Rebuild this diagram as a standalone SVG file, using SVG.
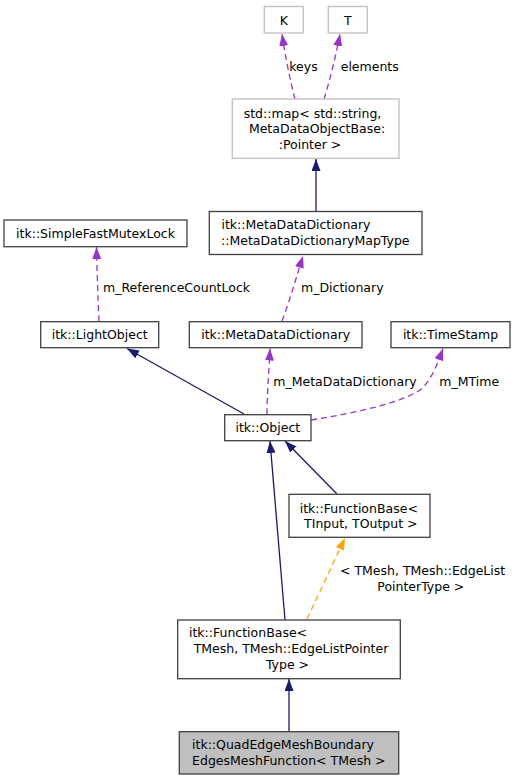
<svg xmlns="http://www.w3.org/2000/svg" width="515" height="781" viewBox="0 0 515 781">
<style>
text{font-family:"DejaVu Sans","Liberation Sans",sans-serif;font-size:12.5px;fill:#000}
.m{text-anchor:middle}
.n{fill:#fff;stroke:#404040;stroke-width:1.3}
.g{fill:#fff;stroke:#bfbfbf;stroke-width:1.3}
.cur{fill:#bfbfbf;stroke:#404040;stroke-width:1.3}
.e{fill:none;stroke-width:1.3}
.nv{stroke:#191970;marker-end:url(#an)}
.pu{stroke:#9a32cd;stroke-dasharray:6,4;marker-end:url(#ap)}
.or{stroke:#ffa500;stroke-dasharray:6,4;marker-end:url(#ao)}
</style>
<defs>
<marker id="an" markerUnits="userSpaceOnUse" markerWidth="13" markerHeight="10" refX="12" refY="4.5" orient="auto"><path d="M0,0 L12,4.5 L0,9 z" fill="#191970"/></marker>
<marker id="ap" markerUnits="userSpaceOnUse" markerWidth="13" markerHeight="10" refX="12" refY="4.5" orient="auto"><path d="M0,0 L12,4.5 L0,9 z" fill="#9a32cd"/></marker>
<marker id="ao" markerUnits="userSpaceOnUse" markerWidth="13" markerHeight="10" refX="12" refY="4.5" orient="auto"><path d="M0,0 L12,4.5 L0,9 z" fill="#ffa500"/></marker>
</defs>
<rect width="515" height="781" fill="#fff"/>
<g id="connectors">
<path class="e pu" d="M295,99 C290,80 285,55 282,34"/>
<path class="e pu" d="M324,99 C330,80 336,55 340,34"/>
<path class="e nv" d="M316,211 L316,159"/>
<path class="e pu" d="M99,321 C98,300 97,270 96.5,247"/>
<path class="e pu" d="M282,321 C290,300 297,275 303,256"/>
<path class="e pu" d="M267,414 C267,395 269,370 270,348.5"/>
<path class="e pu" d="M311,420 C360,412 400,403 420,390 C432,380 438,362 443,348.5"/>
<path class="e nv" d="M244,414 L127,348.5"/>
<path class="e nv" d="M337,494 L285,441"/>
<path class="e nv" d="M285,620 L270,441"/>
<path class="e or" d="M307,619 L345,538"/>
<path class="e nv" d="M289,731 L289,679"/>
<text x="289.3" y="71">keys</text>
<text x="340.7" y="71">elements</text>
<text x="103" y="292">m_ReferenceCountLock</text>
<text x="301" y="292">m_Dictionary</text>
<text x="273.3" y="385.5">m_MetaDataDictionary</text>
<text x="439.3" y="385.5">m_MTime</text>
<text x="340" y="575">&lt; TMesh, TMesh::EdgeList</text>
<text x="377.3" y="591">PointerType &gt;</text>
</g>
<g id="K"><rect class="g" x="264.3" y="6.5" width="39" height="26.5"/><text class="m" x="283.8" y="24.5">K</text></g>
<g id="T"><rect class="g" x="328.3" y="6.5" width="39" height="26.5"/><text class="m" x="347.8" y="24.5">T</text></g>
<g id="stdmap"><rect class="g" x="232.3" y="99" width="166.7" height="59.3"/>
<text class="m" x="312.5" y="118">std::map&lt; std::string,</text>
<text class="m" x="317" y="133">MetaDataObjectBase:</text>
<text class="m" x="310" y="148.5">:Pointer &gt;</text></g>
<g id="MapType"><rect class="n" x="209.3" y="211.5" width="212.7" height="43"/>
<text class="m" x="296" y="229">itk::MetaDataDictionary</text>
<text class="m" x="315.3" y="245">::MetaDataDictionaryMapType</text></g>
<g id="Mutex"><rect class="n" x="4" y="220" width="183" height="26.7"/><text class="m" x="95.5" y="237.5">itk::SimpleFastMutexLock</text></g>
<g id="LightObject"><rect class="n" x="40.7" y="321.7" width="118" height="26"/><text class="m" x="99.7" y="339">itk::LightObject</text></g>
<g id="MetaDataDictionary"><rect class="n" x="189.3" y="321.7" width="172.7" height="26"/><text class="m" x="275.7" y="339">itk::MetaDataDictionary</text></g>
<g id="TimeStamp"><rect class="n" x="391" y="321.7" width="119" height="26"/><text class="m" x="450.5" y="339">itk::TimeStamp</text></g>
<g id="Object"><rect class="n" x="224.7" y="414.7" width="86.3" height="26"/><text class="m" x="267.8" y="432">itk::Object</text></g>
<g id="FBTInput"><rect class="n" x="289" y="494.3" width="141" height="43"/>
<text class="m" x="358.8" y="513">itk::FunctionBase&lt;</text>
<text class="m" x="360.8" y="528">TInput, TOutput &gt;</text></g>
<g id="FBTMesh"><rect class="n" x="177.7" y="620" width="222.6" height="58.7"/>
<text class="m" x="248" y="637">itk::FunctionBase&lt;</text>
<text class="m" x="291" y="653">TMesh, TMesh::EdgeListPointer</text>
<text class="m" x="287.5" y="668.5">Type &gt;</text></g>
<g id="Quad"><rect class="cur" x="179.3" y="731.7" width="219.4" height="42.3"/>
<text class="m" x="283" y="748.5">itk::QuadEdgeMeshBoundary</text>
<text class="m" x="288.8" y="764.5">EdgesMeshFunction&lt; TMesh &gt;</text></g>
</svg>
